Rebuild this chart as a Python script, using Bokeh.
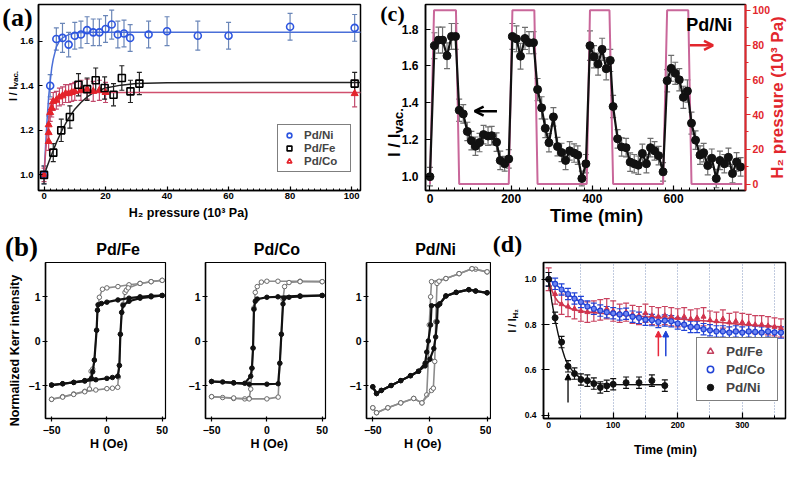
import math
from bokeh.plotting import figure
from bokeh.layouts import row, column
from bokeh.models import (ColumnDataSource, Whisker, TeeHead, Label, Legend, LegendItem,
                          FixedTicker, LinearAxis, Range1d, Arrow, OpenHead, NormalHead,
                          PrintfTickFormatter, GridBox)
from bokeh.embed import file_html
from bokeh.resources import INLINE

SANS = "Liberation Sans"
SERIF = "Liberation Serif"

# ---------------- panel (a): I/Ivac vs H2 pressure ----------------
a_ni_p = [0, 2, 4, 6, 8, 10, 12, 14, 16, 18, 20, 22, 24, 26, 28, 34, 40, 50, 60, 80, 101]
a_ni_y = [1.0, 1.40, 1.61, 1.615, 1.585, 1.625, 1.63, 1.65, 1.64, 1.64, 1.655, 1.675, 1.63,
          1.635, 1.615, 1.63, 1.645, 1.625, 1.625, 1.665, 1.66]
a_ni_e = [0.04, 0.05, 0.05, 0.065, 0.055, 0.06, 0.06, 0.06, 0.06, 0.06, 0.06, 0.065, 0.06,
          0.06, 0.06, 0.06, 0.065, 0.065, 0.06, 0.06, 0.06]
a_fe_p = [0, 3, 5.6, 8.4, 11.2, 14, 16.8, 19.7, 22.6, 25.3, 28.1, 31, 101]
a_fe_y = [1.0, 1.10, 1.20, 1.26, 1.405, 1.385, 1.425, 1.39, 1.36, 1.435, 1.375, 1.41, 1.41]
a_fe_e = [0.04, 0.04, 0.05, 0.05, 0.05, 0.05, 0.055, 0.05, 0.05, 0.055, 0.05, 0.05, 0.05]
a_co_p = [0, 1.5, 1.5, 1.5, 2, 2.5, 3, 4, 5, 6, 7, 8, 9, 10, 12, 14, 16, 18, 20, 101]
a_co_y = [1.0, 1.15, 1.19, 1.225, 1.28, 1.30, 1.33, 1.335, 1.35, 1.355, 1.365, 1.365, 1.37,
          1.375, 1.38, 1.385, 1.375, 1.38, 1.37, 1.365]
a_co_e = [0.03, 0.04, 0.04, 0.04, 0.04, 0.04, 0.04, 0.04, 0.04, 0.04, 0.04, 0.04, 0.04, 0.04,
          0.045, 0.045, 0.045, 0.045, 0.045, 0.06]
a_ni_fit_p = [0, 0.5, 1, 1.5, 2, 2.5, 3, 4, 5, 6, 8, 10, 14, 104]
a_ni_fit_y = [1.0, 1.13, 1.25, 1.35, 1.42, 1.48, 1.52, 1.575, 1.60, 1.615, 1.63, 1.637, 1.64, 1.64]
a_fe_fit_p = [0, 2, 4, 6, 8, 10, 12, 14, 16, 18, 20, 25, 30, 40, 104]
a_fe_fit_y = [1.0, 1.075, 1.145, 1.205, 1.255, 1.295, 1.325, 1.35, 1.368, 1.38, 1.39, 1.403,
              1.41, 1.414, 1.415]
a_co_fit_p = [0, 0.5, 1, 1.5, 2, 3, 4, 6, 8, 10, 104]
a_co_fit_y = [1.0, 1.1, 1.18, 1.24, 1.28, 1.32, 1.34, 1.36, 1.367, 1.37, 1.37]
a_xticks = [0, 20, 40, 60, 80, 100]
a_yticks = [1.0, 1.2, 1.4, 1.6]

# ---------------- panel (b): Kerr hysteresis loops ----------------
fe_blk_dn_h = [50, 40, 30, 20, 10, 0, -5, -8, -8.5, -9.3, -11.3, -12.8, -14, -20, -30, -40, -50]
fe_blk_dn_v = [1.03, 1.02, 1.0, 0.97, 0.93, 0.88, 0.85, 0.82, 0.7, 0.25, -0.42, -0.68, -0.83,
               -0.88, -0.92, -0.95, -0.98]
fe_blk_up_h = [-50, -40, -30, -20, -10, 0, 5, 9.8, 11.3, 12.2, 13.4, 14.6, 20, 30, 40, 50]
fe_blk_up_v = [-0.98, -0.95, -0.92, -0.89, -0.86, -0.83, -0.81, -0.78, -0.54, 0.16, 0.65, 0.81,
               0.9, 0.97, 1.0, 1.03]
fe_gry_dn_h = [50, 40, 30, 20, 10, 0, -4, -6.8, -8.5, -9.3, -11.3, -12.8, -14.3, -15.8, -20, -30, -40, -50]
fe_gry_dn_v = [1.37, 1.34, 1.3, 1.27, 1.23, 1.2, 1.17, 0.99, 0.7, 0.25, -0.42, -0.62, -0.67, -1.07,
               -1.12, -1.18, -1.24, -1.3]
fe_gry_up_h = [-50, -40, -30, -20, -10, 0, 5, 9.8, 10.4, 11.3, 12.2, 13.4, 14.6, 16.4, 17.6, 19.3, 30, 40, 50]
fe_gry_up_v = [-1.3, -1.25, -1.19, -1.13, -1.09, -1.06, -1.05, -1.03, -0.8, -0.54, 0.16, 0.65, 0.83,
               1.1, 1.15, 1.2, 1.3, 1.34, 1.37]

co_blk_dn_h = [50, 30, 10, 0, -8.7, -10.5, -11.7, -12.5, -13.5, -14.6, -20, -30, -40, -50]
co_blk_dn_v = [1.03, 1.02, 1.0, 0.99, 0.95, 0.9, 0.72, -0.15, -0.6, -0.78, -0.94, -0.93, -0.91, -0.9]
co_blk_up_h = [-50, -30, -16, 0, 10.2, 11.7, 13.1, 14.6, 15.5, 20, 30, 50]
co_blk_up_v = [-0.9, -0.93, -0.96, -0.96, -0.95, -0.49, 0.16, 0.84, 0.97, 0.99, 1.01, 1.03]
co_gry_dn_h = [50, 30, 10, 0, -5, -8.7, -10.5, -11.7, -12.5, -13.5, -14.6, -16, -20, -30, -40, -50]
co_gry_dn_v = [1.34, 1.35, 1.35, 1.35, 1.33, 1.23, 1.1, 0.75, -0.15, -0.6, -1.07, -1.28, -1.29,
               -1.28, -1.26, -1.24]
co_gry_up_h = [-50, -30, -16, 0, 10.2, 11.7, 13.1, 14.6, 16, 20, 30, 50]
co_gry_up_v = [-1.24, -1.27, -1.29, -1.29, -1.25, -0.49, 0.16, 0.95, 1.23, 1.32, 1.34, 1.34]

ni_blk_dn_h = [50, 40, 34, 23, 14, 8.5, 1.4, 0.6, -1.4, -2.8, -4.2, -10, -17, -25.5, -34, -42.5, -46.7, -50]
ni_blk_dn_v = [1.09, 1.13, 1.16, 1.1, 1.02, 0.84, 0.8, 0.37, 0.01, -0.24, -0.49, -0.67, -0.77, -0.88,
               -0.99, -1.1, -1.17, -1.02]
ni_blk_up_h = [-50, -46.7, -42.5, -34, -25.5, -17, -10, -4.2, 0, 3.4, 5, 6.2, 6.8, 8.5, 14, 23, 34, 40, 50]
ni_blk_up_v = [-1.02, -1.17, -1.1, -0.99, -0.88, -0.77, -0.67, -0.55, -0.4, -0.16, 0.1, 0.44, 0.8,
               0.84, 1.02, 1.1, 1.16, 1.13, 1.09]
ni_gry_dn_h = [50, 40, 36.8, 25.5, 14, 1.4, 0.6, -0.6, -1.4, -2.8, -7, -14.2, -25.5, -36.8, -46.7, -50]
ni_gry_dn_v = [1.56, 1.62, 1.63, 1.52, 1.41, 1.34, 1.0, 0.37, -0.42, -1.2, -1.38, -1.28, -1.38,
               -1.49, -1.6, -1.49]
ni_gry_up_h = [-50, -46.7, -36.8, -25.5, -14.2, -7, 1.4, 3, 4.2, 5.1, 6.2, 8, 14, 25.5, 36.8, 50]
ni_gry_up_v = [-1.49, -1.6, -1.49, -1.38, -1.28, -1.38, -1.1, -1.05, -0.45, 0.44, 1.3, 1.35, 1.41,
               1.52, 1.63, 1.56]
b_titles = ["Pd/Fe", "Pd/Co", "Pd/Ni"]
b_xticks = [-50, 0, 50]
b_yticks = [-1, 0, 1]

# ---------------- panel (c): cycling, Pd/Ni ----------------
c_t = [0, 11, 21, 31, 42, 53, 63,
       72, 82, 92, 102, 112, 122, 132, 143, 152, 164, 173, 184, 194,
       203, 213, 223, 234, 244, 255,
       265, 275, 284, 293, 304, 314, 324, 334, 344, 355, 364, 374, 384,
       394, 404, 414, 424, 434, 444,
       451, 462, 472, 483, 493, 503, 513, 523, 533, 543, 553, 563, 574,
       584, 594, 604, 614, 624, 634,
       644, 654, 665, 674, 684, 694, 705, 714, 725, 735, 745, 755, 765]
c_y = [1.0, 1.71, 1.74, 1.74, 1.655, 1.76, 1.76,
       1.36, 1.34, 1.245, 1.195, 1.165, 1.185, 1.228, 1.22, 1.222, 1.187, 1.088, 1.07, 1.096,
       1.76, 1.747, 1.653, 1.749, 1.726, 1.726,
       1.472, 1.373, 1.262, 1.184, 1.324, 1.163, 1.131, 1.088, 1.14, 1.128, 1.117, 0.99, 1.07,
       1.71, 1.65, 1.61, 1.69, 1.585, 1.63,
       1.38, 1.205, 1.161, 1.157, 1.079, 1.07, 1.062, 1.126, 1.07, 1.157, 1.14, 1.114, 1.026,
       1.52, 1.587, 1.56, 1.525, 1.43, 1.464,
       1.29, 1.198, 1.117, 1.13, 1.06, 1.1, 0.99, 1.088, 1.07, 1.105, 1.017, 1.08, 1.053]
c_e = [0.05, 0.07, 0.07, 0.07, 0.07, 0.07, 0.07,
       0.06, 0.05, 0.05, 0.05, 0.05, 0.05, 0.05, 0.05, 0.05, 0.05, 0.05, 0.04, 0.05,
       0.07, 0.07, 0.07, 0.06, 0.06, 0.06,
       0.06, 0.06, 0.05, 0.05, 0.05, 0.05, 0.05, 0.05, 0.05, 0.05, 0.05, 0.04, 0.05,
       0.08, 0.06, 0.06, 0.06, 0.06, 0.06,
       0.06, 0.05, 0.05, 0.05, 0.05, 0.05, 0.05, 0.05, 0.05, 0.05, 0.05, 0.05, 0.05,
       0.06, 0.07, 0.06, 0.06, 0.06, 0.06,
       0.06, 0.05, 0.05, 0.05, 0.05, 0.05, 0.05, 0.05, 0.05, 0.05, 0.05, 0.05, 0.05]
c_pres_t = [0, 10, 64, 72, 194, 203, 257, 265, 386, 394, 442, 451, 574, 584, 636, 644, 769]
c_pres_v = [0, 100, 100, 0, 0, 100, 100, 0, 0, 100, 100, 0, 0, 100, 100, 0, 0]
c_xticks = [0, 200, 400, 600]
c_yticks = [1.0, 1.2, 1.4, 1.6, 1.8]
c_rticks = [0, 20, 40, 60, 80, 100]

# ---------------- panel (d): I/I_H2 vs time ----------------
d_t = [0, 10, 20, 30, 40, 50, 60, 70, 80, 90, 100, 110, 120, 130, 140, 150, 160, 170, 180,
       190, 200, 210, 220, 230, 240, 250, 260, 270, 280, 290, 300, 310, 320, 330, 340, 350, 360]
d_co_y = [1.0, 0.98, 0.955, 0.935, 0.915, 0.9, 0.88, 0.87, 0.862, 0.855, 0.85, 0.845, 0.848,
          0.835, 0.83, 0.822, 0.82, 0.812, 0.818, 0.815, 0.805, 0.80, 0.79, 0.79, 0.78, 0.775,
          0.77, 0.77, 0.765, 0.77, 0.765, 0.77, 0.768, 0.765, 0.77, 0.766, 0.765]
d_fe_y = [1.0, 0.935, 0.89, 0.88, 0.87, 0.86, 0.855, 0.86, 0.865, 0.87, 0.86, 0.85, 0.855,
          0.845, 0.84, 0.85, 0.84, 0.835, 0.84, 0.835, 0.83, 0.835, 0.825, 0.83, 0.835, 0.82,
          0.815, 0.825, 0.81, 0.815, 0.81, 0.805, 0.80, 0.80, 0.795, 0.79, 0.785]
d_co_e = [0.03] + [0.025] * 36
d_fe_e = [0.05, 0.045, 0.045, 0.045, 0.045, 0.045, 0.045, 0.045, 0.045, 0.045, 0.045, 0.04,
          0.04, 0.04, 0.04, 0.04, 0.04, 0.04, 0.04, 0.04, 0.04, 0.04, 0.04, 0.04, 0.04, 0.04,
          0.04, 0.04, 0.04, 0.04, 0.04, 0.04, 0.04, 0.04, 0.04, 0.04, 0.04]
d_fe_fit_t = [0, 5, 10, 15, 20, 30, 40, 60, 80, 100, 150, 200, 250, 300, 360]
d_fe_fit_y = [1.0, 0.95, 0.92, 0.9, 0.89, 0.875, 0.865, 0.855, 0.85, 0.845, 0.835, 0.825, 0.815,
              0.8, 0.79]
d_ni_t = [0, 10, 20, 30, 40, 50, 60, 70, 80, 90, 100, 120, 140, 160, 180]
d_ni_y = [1.0, 0.83, 0.723, 0.616, 0.584, 0.558, 0.553, 0.54, 0.523, 0.53, 0.537, 0.544, 0.544,
          0.553, 0.531]
d_ni_e = [0.03] + [0.025] * 14
d_ni_fit_t = [0, 5, 10, 15, 20, 25, 30, 40, 50, 60, 80, 100, 180]
d_ni_fit_y = [1.0, 0.9, 0.82, 0.755, 0.70, 0.655, 0.622, 0.585, 0.563, 0.551, 0.54, 0.536, 0.535]
d_xticks = [0, 100, 200, 300]
d_xminor = [50, 150, 250, 350]
d_grid = [50, 100, 150, 200, 250, 300, 350]
d_yticks = [0.4, 0.6, 0.8, 1.0]

W, H = 789, 463


# ---------------- helpers ----------------
def geom(w, h, bl, br, bt, bb, xr, yr):
    return dict(w=w, h=h, bl=bl, br=br, bt=bt, bb=bb, xr=xr, yr=yr)


def make_fig(g):
    p = figure(width=g["w"], height=g["h"], x_range=Range1d(*g["xr"]), y_range=Range1d(*g["yr"]),
               output_backend="svg", toolbar_location=None, tools="",
               min_border_left=g["bl"], min_border_right=g["br"],
               min_border_top=g["bt"], min_border_bottom=g["bb"])
    p.xgrid.visible = False
    p.ygrid.visible = False
    p.outline_line_color = "black"
    p.outline_line_width = 1.5
    p.background_fill_color = "white"
    p.border_fill_color = "white"
    return p


def style_axis(ax, ticks, minor, size, t_in, t_out, m_in, m_out, standoff, color="black", fmt=None):
    ax.ticker = FixedTicker(ticks=ticks, minor_ticks=minor)
    if fmt:
        ax.formatter = PrintfTickFormatter(format=fmt)
    ax.axis_line_color = color
    ax.axis_line_width = 1.5
    ax.major_label_text_font = SANS
    ax.major_label_text_font_style = "bold"
    ax.major_label_text_font_size = f"{size}px"
    ax.major_label_text_color = color
    ax.major_label_standoff = standoff
    ax.major_tick_in = t_in
    ax.major_tick_out = t_out
    ax.minor_tick_in = m_in
    ax.minor_tick_out = m_out
    ax.major_tick_line_color = color
    ax.minor_tick_line_color = color
    ax.major_tick_line_width = 1.2
    ax.minor_tick_line_width = 1


def errbars(p, xs, ys, es, color, width=1.0, head=5):
    src = ColumnDataSource(dict(x=xs, lo=[y - e for y, e in zip(ys, es)], up=[y + e for y, e in zip(ys, es)]))
    p.add_layout(Whisker(source=src, base="x", lower="lo", upper="up", line_color=color, line_width=width,
                         upper_head=TeeHead(size=head, line_color=color, line_width=width),
                         lower_head=TeeHead(size=head, line_color=color, line_width=width)))


def legend_style(leg, size, glyph=14, lh=12, lw=40, spacing=1, padding=5):
    leg.label_text_font = SANS
    leg.label_text_font_style = "bold"
    leg.label_text_font_size = f"{size}px"
    leg.glyph_width = glyph
    leg.glyph_height = lh
    leg.label_height = lh
    leg.label_width = lw
    leg.label_standoff = 8
    leg.spacing = spacing
    leg.padding = padding
    leg.margin = 0
    leg.border_line_color = "black"
    leg.border_line_width = 1.5
    leg.background_fill_color = "white"
    leg.background_fill_alpha = 1.0


NAN = float("nan")

# ---- transparent overlay carrying the titles that sit outside the plot frames ----
ov = figure(width=W, height=H, x_range=Range1d(0, W), y_range=Range1d(H, 0),
            output_backend="svg", toolbar_location=None, tools="",
            x_axis_type=None, y_axis_type=None,
            min_border_left=0, min_border_right=0, min_border_top=0, min_border_bottom=0)
ov.outline_line_color = None
ov.background_fill_alpha = 0
ov.border_fill_alpha = 0


def otext(x, y, s, size, font=SANS, color="black", angle=0.0, align="center", baseline="middle"):
    ov.add_layout(Label(x=x, y=y, text=s, text_font=font, text_font_style="bold",
                        text_font_size=f"{size}px", text_color=color, angle=angle,
                        text_align=align, text_baseline=baseline))


def osub(x, y, main, sub, msize, ssize, dx=3):
    # rotated axis title with a subscript part: main ends at (x, y), subscript continues upward
    otext(x, y, main, msize, angle=math.pi / 2, align="right")
    otext(x + dx, y, sub, ssize, angle=math.pi / 2, align="left")


# ================= panel (a) =================
ga = geom(372, 226, 38, 12, 3, 26, (-1.8, 102.9), (0.93, 1.765))
pa = make_fig(ga)
style_axis(pa.xaxis[0], a_xticks, list(range(0, 104, 2)), 9.5, 4, 0, 2, 0, 2)
style_axis(pa.yaxis[0], a_yticks, [], 9.5, 4, 0, 2, 0, 5, fmt="%.1f")
BLUE_A = "#2d55e0"
RED_A = "#e4232b"
pa.line(a_ni_fit_p, a_ni_fit_y, color="#4a6fd8", line_width=1.5)
pa.line(a_co_fit_p, a_co_fit_y, color="#d0506e", line_width=1.5)
pa.line(a_fe_fit_p, a_fe_fit_y, color="#222222", line_width=1.5)
errbars(pa, a_ni_p, a_ni_y, a_ni_e, "#6a86b8", 1.2, 5)
errbars(pa, a_co_p, a_co_y, a_co_e, "#c24a6c", 1.2, 5)
errbars(pa, a_fe_p, a_fe_y, a_fe_e, "#222222", 1.2, 5)
r_co = pa.scatter(a_co_p, a_co_y, marker="triangle", size=7, fill_color=RED_A, line_color=RED_A)
r_ni = pa.scatter(a_ni_p, a_ni_y, marker="circle", size=7, fill_alpha=0, line_color=BLUE_A, line_width=1.6)
r_fe = pa.scatter(a_fe_p, a_fe_y, marker="square", size=7, fill_alpha=0, line_color="black", line_width=1.6)
r_co_leg = pa.scatter([NAN], [NAN], marker="triangle", size=8, fill_alpha=0, line_color=RED_A, line_width=1.6)
leg_a = Legend(items=[LegendItem(label="Pd/Ni", renderers=[r_ni]),
                      LegendItem(label="Pd/Fe", renderers=[r_fe]),
                      LegendItem(label="Pd/Co", renderers=[r_co_leg])],
               location=(239, 18))
legend_style(leg_a, 11.5, glyph=14, lh=12, lw=42, spacing=1, padding=4)
pa.add_layout(leg_a, "center")

# ================= panel (c) =================
gc = geom(417, 226, 53, 44, 4, 36, (-11, 777), (0.925, 1.933))
pc = make_fig(gc)
pc.extra_y_ranges = {"pres": Range1d(-3.7, 103.3)}
style_axis(pc.xaxis[0], c_xticks, list(range(0, 780, 20)), 12, 5, 0, 3, 0, 3)
style_axis(pc.yaxis[0], c_yticks, [], 12, 5, 0, 3, 0, 7, fmt="%.1f")
RED_C = "#e2262c"
ax_r = LinearAxis(y_range_name="pres")
style_axis(ax_r, c_rticks, [10, 30, 50, 70, 90], 10.5, 0, 5, 0, 3, 2, color=RED_C)
ax_r.axis_line_width = 2
pc.add_layout(ax_r, "right")
pc.line(c_pres_t, c_pres_v, y_range_name="pres", color="#c9679a", line_width=2)
errbars(pc, c_t, c_y, c_e, "#6e6e6e", 1.2, 6)
pc.line(c_t, c_y, color="#111111", line_width=2.2)
pc.scatter(c_t, c_y, marker="circle", size=8, fill_color="#111111", line_color="#111111")
pc.add_layout(Arrow(end=OpenHead(size=9, line_color="black", line_width=2.5),
                    x_start=165, y_start=1.355, x_end=110, y_end=1.355,
                    line_color="black", line_width=2.5))
pc.add_layout(Arrow(end=OpenHead(size=9, line_color=RED_C, line_width=2.5),
                    x_start=640, y_start=1.712, x_end=697, y_end=1.712,
                    line_color=RED_C, line_width=2.5))
pc.add_layout(Label(x=688, y=1.823, text="Pd/Ni", text_font=SANS, text_font_style="bold",
                    text_font_size="18px", text_color="black",
                    text_align="center", text_baseline="middle"))

# ================= panel (b) =================
def hyst_fig(g, loops):
    p = make_fig(g)
    style_axis(p.xaxis[0], b_xticks, [], 10.5, 2, 3, 0, 0, 4)
    style_axis(p.yaxis[0], b_yticks, [], 10.5, 2, 3, 0, 0, 2)
    p.outline_line_width = 1.2
    (gdh, gdv, guh, guv, bdh, bdv, buh, buv) = loops
    for h, v in ((gdh, gdv), (guh, guv)):
        p.line(h, v, color="#8c8c8c", line_width=1.6)
        p.scatter(h, v, marker="circle", size=4.5, fill_color="white", line_color="#6a6a6a", line_width=1)
    for h, v in ((bdh, bdv), (buh, buv)):
        p.line(h, v, color="#111111", line_width=2.2)
        p.scatter(h, v, marker="circle", size=4.5, fill_color="#111111", line_color="#111111")
    return p


gb1 = geom(184, 237, 45, 19, 36, 45, (-55.5, 53), (-1.73, 1.77))
gb2 = geom(161, 237, 21, 20, 36, 45, (-55.5, 53), (-1.73, 1.77))
gb3 = geom(146, 237, 21, 1, 36, 45, (-55.5, 53), (-1.73, 1.77))
pb1 = hyst_fig(gb1, (fe_gry_dn_h, fe_gry_dn_v, fe_gry_up_h, fe_gry_up_v,
                     fe_blk_dn_h, fe_blk_dn_v, fe_blk_up_h, fe_blk_up_v))
pb2 = hyst_fig(gb2, (co_gry_dn_h, co_gry_dn_v, co_gry_up_h, co_gry_up_v,
                     co_blk_dn_h, co_blk_dn_v, co_blk_up_h, co_blk_up_v))
pb3 = hyst_fig(gb3, (ni_gry_dn_h, ni_gry_dn_v, ni_gry_up_h, ni_gry_up_v,
                     ni_blk_dn_h, ni_blk_dn_v, ni_blk_up_h, ni_blk_up_v))

# ================= panel (d) =================
gd = geom(298, 237, 52, 4, 12, 35, (-8, 367), (0.386, 1.074))
pd_ = make_fig(gd)
style_axis(pd_.xaxis[0], d_xticks, d_xminor, 8.5, 6, 0, 3, 0, 3)
style_axis(pd_.yaxis[0], d_yticks, [], 8.5, 6, 2, 0, 0, 5, fmt="%.1f")
pd_.xgrid.visible = True
pd_.xgrid.ticker = FixedTicker(ticks=d_grid)
pd_.xgrid.grid_line_color = "#8396bf"
pd_.xgrid.grid_line_dash = "1 2"
pd_.xgrid.grid_line_width = 1
RED_D = "#d2334d"
BLUE_D = "#2143d6"
errbars(pd_, d_t, d_fe_y, d_fe_e, "#c9425f", 1.2, 6)
errbars(pd_, d_t, d_co_y, d_co_e, BLUE_D, 1.2, 6)
errbars(pd_, d_ni_t, d_ni_y, d_ni_e, "#111111", 1.2, 6)
pd_.line(d_fe_fit_t, d_fe_fit_y, color="#cc3a50", line_width=1.6)
pd_.line(d_t, d_co_y, color=BLUE_D, line_width=1.6)
pd_.line(d_ni_fit_t, d_ni_fit_y, color="#111111", line_width=1.4)
pd_.scatter(d_t, d_fe_y, marker="triangle", size=5, fill_color=RED_D, line_color=RED_D)
pd_.scatter(d_t, d_co_y, marker="circle", size=5, fill_color="#6f86f0", line_color=BLUE_D, line_width=1.2)
pd_.scatter(d_ni_t, d_ni_y, marker="circle", size=6, fill_color="#111111", line_color="#111111")
r_dfe_leg = pd_.scatter([NAN], [NAN], marker="triangle", size=10, fill_alpha=0, line_color="#c2405e", line_width=1.5)
r_dco_leg = pd_.scatter([NAN], [NAN], marker="circle", size=10, fill_alpha=0, line_color=BLUE_D, line_width=1.5)
r_dni_leg = pd_.scatter([NAN], [NAN], marker="circle", size=10, fill_color="#111111", line_color="#111111")
pd_.add_layout(Arrow(end=NormalHead(size=6, fill_color="black", line_color="black"),
                     x_start=30, y_start=0.457, x_end=30, y_end=0.583,
                     line_color="black", line_width=1.3))
pd_.add_layout(Arrow(end=NormalHead(size=6, fill_color="#e8283c", line_color="#e8283c"),
                     x_start=170, y_start=0.66, x_end=170, y_end=0.772,
                     line_color="#e8283c", line_width=1.5))
pd_.add_layout(Arrow(end=NormalHead(size=6, fill_color=BLUE_D, line_color=BLUE_D),
                     x_start=181.5, y_start=0.66, x_end=181.5, y_end=0.772,
                     line_color=BLUE_D, line_width=1.5))
leg_d = Legend(items=[LegendItem(label="Pd/Fe", renderers=[r_dfe_leg]),
                      LegendItem(label="Pd/Co", renderers=[r_dco_leg]),
                      LegendItem(label="Pd/Ni", renderers=[r_dni_leg])],
               location=(153, 17))
legend_style(leg_d, 13.5, glyph=16, lh=16, lw=46, spacing=2, padding=5)
pd_.add_layout(leg_d, "center")

# ---- titles outside the frames (page-content pixel positions) ----
otext(17, 17, "(a)", 26, font=SERIF)
otext(392, 13, "(c)", 22, font=SERIF)
otext(21, 246, "(b)", 27, font=SERIF)
otext(507, 243, "(d)", 24, font=SERIF)
# axis titles
osub(12, 86, "I / I", "vac.", 10.5, 8, dx=3)
otext(188, 212, "H\u2082 pressure (10\u00b3 Pa)", 12.5)
osub(394, 133, "I / I", "vac.", 17, 13, dx=4)
otext(596, 215, "Time (min)", 18.5)
otext(777, 97, "H\u2082 pressure (10\u00b3 Pa)", 17, color=RED_C, angle=math.pi / 2)
otext(14, 350, "Normalized Kerr intensity", 12.5, angle=math.pi / 2)
for bx, bt in zip([117.6, 276.4, 435.1], b_titles):
    otext(bx, 249, bt, 16)
for bx in [108.3, 268.7, 422.2]:
    otext(bx, 443, "H (Oe)", 12.5)
osub(512, 318, "I / I", "H\u2082", 10, 8, dx=3)
otext(665, 449, "Time (min)", 12.5)

main = column(row(pa, pc), row(pb1, pb2, pb3, pd_))
page = GridBox(children=[(main, 0, 0), (ov, 0, 0)])
open("out.html", "w").write(file_html(page, INLINE, title="Pd alloy figure"))
